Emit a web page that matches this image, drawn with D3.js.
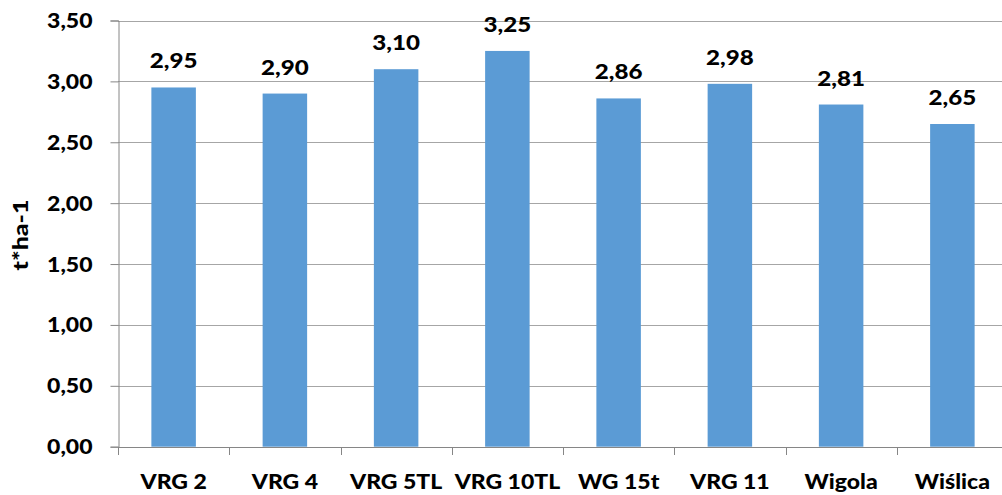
<!DOCTYPE html>
<html>
<head>
<meta charset="utf-8">
<script src="https://cdn.jsdelivr.net/npm/d3@7"></script>
<style>
    body { margin: 0; background: #fff; }
    svg { display: block; font-family: Lato, "Open Sans", sans-serif; font-weight: 900; }
</style>
</head>
<body>
<svg id="chart"></svg>
<script>
// Chart data
var categories = ["VRG 2", "VRG 4", "VRG 5TL", "VRG 10TL", "WG 15t", "VRG 11", "Wigola", "Wiślica"];
var values = [2.95, 2.90, 3.10, 3.25, 2.86, 2.98, 2.81, 2.65];
var yTicks = [0, 0.5, 1, 1.5, 2, 2.5, 3, 3.5];
var yTitle = "t*ha-1";

var width = 1002,
    height = 495;

// Plot area (runs slightly past the right edge, as in the original)
var plotLeft = 118, plotRight = 1008, plotTop = 20.5, plotBottom = 446.7;

// the original font is a bit wider than Lato, so stretch text horizontally
var stretch = 1.15;

var fmt = function (v) { return v.toFixed(2).replace(".", ","); };

var x = d3.scaleBand()
    .domain(categories)
    .range([plotLeft, plotRight])
    .paddingInner(0.6)
    .paddingOuter(0.3);

var y = d3.scaleLinear()
    .domain([0, 3.5])
    .range([plotBottom, plotTop]);

var svg = d3.select("#chart")
    .attr("width", width)
    .attr("height", height);

function place(px, py) {
    return "translate(" + px + "," + py + ") scale(" + stretch + ",1)";
}

// Horizontal gridlines
svg.append("g")
    .selectAll("line")
    .data(yTicks.slice(1))
    .enter().append("line")
    .attr("x1", plotLeft)
    .attr("x2", plotRight)
    .attr("y1", function (d) { return Math.round(y(d)) + 0.5; })
    .attr("y2", function (d) { return Math.round(y(d)) + 0.5; })
    .attr("stroke", "#a6a6a6")
    .attr("stroke-width", 1);

// Y axis
var yAxis = svg.append("g")
    .attr("transform", "translate(" + (plotLeft + 0.5) + ",0)")
    .call(d3.axisLeft(y).tickValues(yTicks).tickFormat(fmt).tickSize(8));

yAxis.select(".domain").attr("stroke", "#868686");
yAxis.selectAll(".tick line").attr("stroke", "#868686");
yAxis.selectAll(".tick text")
    .attr("x", null)
    .attr("dy", null)
    .attr("transform", place(-26, 7))
    .attr("fill", "#000")
    .style("font-size", "20px")
    .style("font-family", "Lato, sans-serif")
    .style("font-weight", "900");

// Bars
svg.append("g")
    .selectAll("rect")
    .data(values)
    .enter().append("rect")
    .attr("x", function (d, i) { return x(categories[i]); })
    .attr("width", x.bandwidth())
    .attr("y", function (d) { return y(d); })
    .attr("height", function (d) { return plotBottom - y(d); })
    .attr("fill", "#5b9bd5");

// X axis line and category tick marks
svg.append("line")
    .attr("x1", plotLeft)
    .attr("x2", plotRight)
    .attr("y1", Math.round(plotBottom) + 0.5)
    .attr("y2", Math.round(plotBottom) + 0.5)
    .attr("stroke", "#868686");

var step = x.step();
svg.append("g")
    .selectAll("line")
    .data(d3.range(categories.length + 1))
    .enter().append("line")
    .attr("x1", function (i) { return Math.round(plotLeft + i * step) + 0.5; })
    .attr("x2", function (i) { return Math.round(plotLeft + i * step) + 0.5; })
    .attr("y1", Math.round(plotBottom))
    .attr("y2", Math.round(plotBottom) + 8)
    .attr("stroke", "#868686");

// Category labels
svg.append("g")
    .selectAll("text")
    .data(categories)
    .enter().append("text")
    .attr("transform", function (d) { return place(x(d) + x.bandwidth() / 2, 489); })
    .attr("text-anchor", "middle")
    .style("font-size", "20px")
    .text(function (d) { return d; });

// Value labels
svg.append("g")
    .selectAll("text")
    .data(values)
    .enter().append("text")
    .attr("transform", function (d, i) { return place(x(categories[i]) + x.bandwidth() / 2, y(d) - 19); })
    .attr("text-anchor", "middle")
    .style("font-size", "21px")
    .text(fmt);

// Y axis title
svg.append("text")
    .attr("transform", "translate(28,235) rotate(-90) scale(1.25,1)")
    .attr("text-anchor", "middle")
    .style("font-size", "20px")
    .text(yTitle);
</script>
</body>
</html>
